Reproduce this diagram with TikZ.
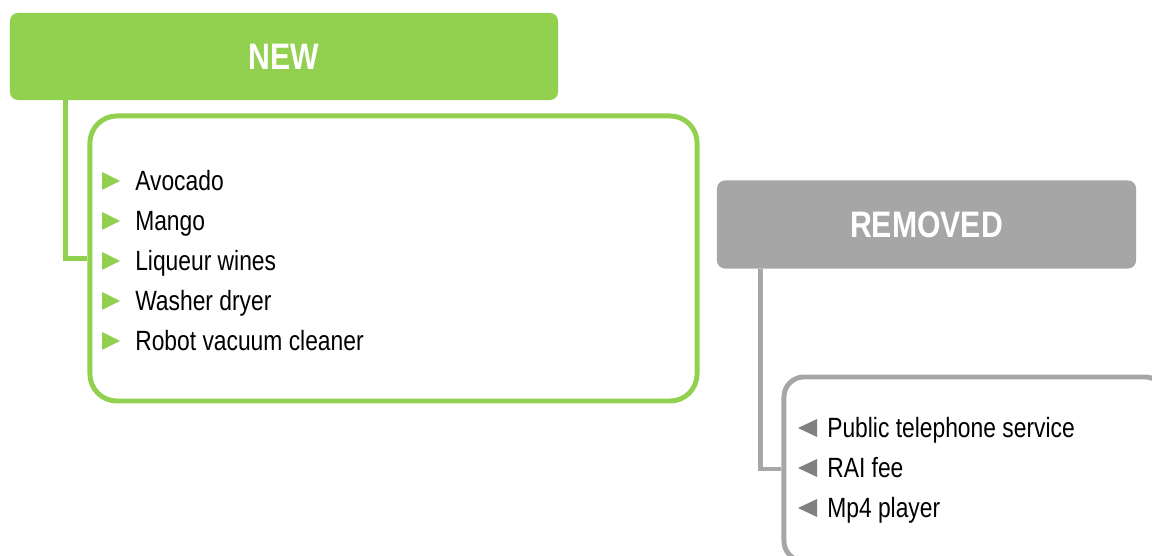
\documentclass[tikz,border=0pt]{standalone}
\usepackage{fontspec}
\setmainfont{Liberation Sans}
\usepackage{graphicx}

\definecolor{newgreen}{HTML}{92D050}
\definecolor{remgray}{HTML}{A6A6A6}
\definecolor{bulletgray}{HTML}{808080}

\newcommand{\narrowtxt}[1]{\scalebox{0.82}[1]{#1}}

\tikzset{
  headbox/.style={rectangle, rounded corners=0.2cm, inner sep=0pt,
    text=white, font=\fontsize{26.2}{30}\selectfont\bfseries},
  listbox/.style={rectangle, draw, line width=3.5pt, fill=white, inner sep=0pt},
  link/.style={line width=3.5pt},
  item/.style={anchor=base west, inner sep=0pt, font=\fontsize{19.8}{24}\selectfont}
}

\begin{document}
\begin{tikzpicture}[x=0.025cm, y=-0.025cm]
  \useasboundingbox (0,0) rectangle (1152,556);
  \clip (0,0) rectangle (1152,556);

  % new items
  \node[headbox, fill=newgreen, minimum width=13.7cm, minimum height=2.175cm]
    (newhead) at (284,56.5) {\narrowtxt{NEW}};
  \coordinate (newtap) at ([xshift=1.4cm]newhead.south west);
  \node[listbox, draw=newgreen, rounded corners=0.675cm,
    minimum width=15.175cm, minimum height=7.125cm] (newbox) at (393.5,258.5) {};
  \draw[link, newgreen] (newtap) |- (newbox.west);

  \foreach \txt [count=\i, evaluate=\i as \y using 191+40*(\i-1)] in
    {Avocado, Mango, Liqueur wines, Washer dryer, Robot vacuum cleaner} {
    \fill[newgreen] (102,\y-19) -- (120,\y-10) -- (102,\y-1) -- cycle;
    \node[item] (new\i) at (135,\y) {\narrowtxt{\txt}};
  }

  % removed items
  \node[headbox, fill=remgray, minimum width=10.475cm, minimum height=2.2cm]
    (remhead) at (926.5,224.5) {\narrowtxt{REMOVED}};
  \coordinate (remtap) at ([xshift=1.1cm]remhead.south west);
  \node[listbox, draw=remgray, rounded corners=0.5cm,
    minimum width=9.525cm, minimum height=4.6cm] (rembox) at (974.5,469) {};
  \draw[link, remgray] (remtap) |- (rembox.west);

  \foreach \txt [count=\i, evaluate=\i as \y using 438+40*(\i-1)] in
    {Public telephone service, RAI fee, Mp4 player} {
    \fill[bulletgray] (817,\y-19) -- (798,\y-10) -- (817,\y-1) -- cycle;
    \node[item] (rem\i) at (827,\y) {\narrowtxt{\txt}};
  }
\end{tikzpicture}
\end{document}
